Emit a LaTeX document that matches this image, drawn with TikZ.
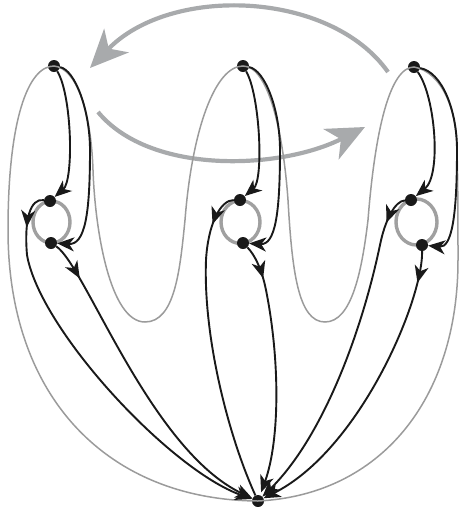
\documentclass[tikz,border=0pt]{standalone}
\usetikzlibrary{arrows.meta,decorations.markings}
\definecolor{garrow}{RGB}{168,170,172}
\definecolor{gsnake}{RGB}{155,155,155}
\definecolor{gloop}{RGB}{160,160,160}
\definecolor{ink}{RGB}{25,25,25}
\begin{document}
\begin{tikzpicture}[x=1pt,y=-1pt,
  dot/.style={circle,fill=ink,inner sep=0pt,minimum size=12pt},
  edge/.style={line width=1.9pt,ink},
  snake/.style={line width=1.5pt,gsnake},
  loopc/.style={line width=3.4pt,gloop},
  bigarrow/.style={line width=4.2pt,garrow,-{Stealth[length=38pt,width=34pt,inset=11pt]}},
  tip/.style={-{Stealth[length=17pt,width=14pt,inset=5pt]}},
  midarrow/.style={postaction={decorate},decoration={markings,mark=at position #1 with {\arrow{Stealth[length=17pt,width=14pt,inset=5pt]}}}}
]
\useasboundingbox (0,0) rectangle (459,507);

% big gray arrows
\coordinate (a1s) at (388,72);
\coordinate (a1e) at (90,68);
\coordinate (a2s) at (98,112);
\coordinate (a2e) at (365,127);
\draw[bigarrow] (a1s) .. controls (330,-10) and (170,-15) .. (a1e);
\draw[bigarrow] (a2s) .. controls (150,175) and (280,170) .. (a2e);

% loop circles
\draw[loopc] (51.5,222) ellipse [x radius=18.5, y radius=21];
\draw[loopc] (240.5,222) ellipse [x radius=19.5, y radius=21.5];
\draw[loopc] (416.5,222) ellipse [x radius=20.5, y radius=23];

% nodes
\node[dot] (T1) at (54,66) {};
\node[dot] (T2) at (243,66) {};
\node[dot] (T3) at (414,67) {};
\node[dot] (U1) at (50,201) {};
\node[dot] (D1) at (51,243) {};
\node[dot] (U2) at (240,200) {};
\node[dot] (D2) at (243,243) {};
\node[dot] (U3) at (411,200) {};
\node[dot] (D3) at (422,245) {};
\node[dot] (B) at (258,501) {};

% gray snake (closed through B)
\draw[snake] (B.center) .. controls (110,500) and (8,400) .. (8,230)
  .. controls (8,120) and (28,66) .. (T1.center)
  .. controls (76,68) and (91,110) .. (93,170)
  .. controls (95,230) and (110,322) .. (145,322)
  .. controls (175,322) and (180,270) .. (185,220)
  .. controls (192,130) and (215,66) .. (T2.center)
  .. controls (268,66) and (283,130) .. (288,200)
  .. controls (292,270) and (298,322) .. (325,322)
  .. controls (352,322) and (362,270) .. (368,220)
  .. controls (375,130) and (390,67) .. (T3.center)
  .. controls (442,72) and (457,110) .. (457,150)
  .. controls (458,190) and (458,220) .. (458,260)
  .. controls (458,400) and (380,495) .. (B.center);

% black edges: top to loop
\draw[edge,tip] (T1) .. controls (72,95) and (74,180) .. (U1);
\draw[edge,tip] (T1) .. controls (75,70) and (90,110) .. (90,150) .. controls (90,215) and (85,245) .. (D1);
\draw[edge,tip] (T2) .. controls (260,95) and (264,180) .. (U2);
\draw[edge,tip] (T2) .. controls (265,70) and (280,110) .. (280,150) .. controls (280,215) and (275,245) .. (D2);
\draw[edge,tip] (T3) .. controls (435,95) and (442,175) .. (U3);
\draw[edge,tip] (T3) .. controls (442,72) and (457,110) .. (457,150) .. controls (457,215) and (452,248) .. (D3);

% black edges: loop to bottom
\draw[edge,tip,midarrow=36pt] (U1) .. controls (30,198) and (24,220) .. (27,255) .. controls (40,330) and (170,470) .. (B);
\draw[edge,tip,midarrow=40pt] (D1) .. controls (85,265) and (150,450) .. (B);
\draw[edge,midarrow=34pt] (U2) .. controls (220,200) and (208,225) .. (206,260) .. controls (203,340) and (230,440) .. (B);
\draw[edge,tip,midarrow=35pt,shorten >=3pt] (D2) .. controls (255,255) and (262,270) .. (266,290) .. controls (280,360) and (280,440) .. (B);
\draw[edge,tip,midarrow=30pt] (U3) .. controls (395,201) and (385,220) .. (380,245) .. controls (360,340) and (320,440) .. (B);
\draw[edge,tip,midarrow=32pt] (D3) .. controls (423,300) and (360,450) .. (B);
\end{tikzpicture}
\end{document}
